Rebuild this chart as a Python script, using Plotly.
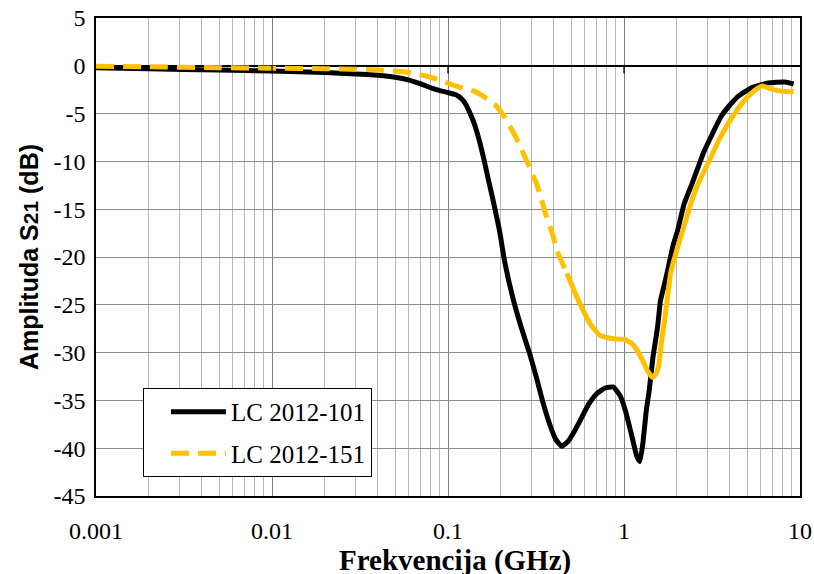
import plotly.graph_objects as go

# ---- data ----
freq_101 = [0.001, 0.002, 0.005, 0.01, 0.02, 0.03, 0.04, 0.05, 0.06, 0.07, 0.08, 0.09, 0.1,
            0.11, 0.115, 0.12, 0.125, 0.13, 0.14, 0.15, 0.16, 0.17, 0.18, 0.196, 0.21, 0.233, 0.26, 0.291,
            0.32, 0.345, 0.38, 0.41, 0.443, 0.48, 0.52, 0.56, 0.63, 0.7, 0.78, 0.87, 0.95,
            1.02, 1.1, 1.18, 1.23, 1.28, 1.34, 1.39, 1.46, 1.55, 1.61, 1.69, 1.77, 1.9, 2.02,
            2.19, 2.44, 2.83, 3.2, 3.56, 4.0, 4.45, 5.3, 6.6, 8.2, 9.2]
s21_101 = [-0.2, -0.3, -0.45, -0.55, -0.7, -0.85, -1.0, -1.2, -1.5, -1.9, -2.3, -2.6, -2.8,
           -3.0, -3.2, -3.5, -3.9, -4.5, -5.9, -7.7, -9.8, -12.0, -14.0, -17.2, -20.5, -24.2, -27.3, -30.1,
           -32.8, -35.1, -37.6, -39.1, -39.8, -39.3, -38.3, -37.2, -35.4, -34.3, -33.7, -33.6, -34.5,
           -36.1, -38.5, -40.8, -41.4, -39.5, -36.0, -34.0, -30.5, -27.4, -24.6, -23.0, -21.4, -18.8, -17.2,
           -14.5, -12.3, -9.1, -7.0, -5.3, -4.1, -3.2, -2.3, -1.8, -1.7, -1.9]

freq_151 = [0.001, 0.002, 0.005, 0.01, 0.02, 0.03, 0.04, 0.05, 0.057, 0.07, 0.08, 0.093, 0.11,
            0.125, 0.143, 0.165, 0.188, 0.205, 0.224, 0.245, 0.267, 0.29, 0.318, 0.34, 0.363,
            0.397, 0.415, 0.474, 0.54, 0.643, 0.73, 0.835, 0.93, 1.0, 1.1, 1.19, 1.28, 1.36,
            1.45, 1.52, 1.58, 1.63, 1.69, 1.76, 1.84, 2.0, 2.19, 2.4, 2.6, 3.13, 3.5, 3.92, 4.4,
            4.9, 5.5, 6.1, 6.6, 7.5, 8.3, 9.2]
s21_151 = [-0.05, -0.1, -0.2, -0.25, -0.3, -0.35, -0.45, -0.55, -0.65, -0.95, -1.2, -1.6, -2.1,
           -2.4, -2.7, -3.4, -4.2, -5.1, -6.3, -7.6, -9.1, -10.6, -12.3, -14.0, -15.8,
           -17.9, -19.3, -21.7, -24.2, -27.0, -28.2, -28.5, -28.6, -28.6, -29.0, -29.8, -30.9, -31.9,
           -32.6, -32.2, -31.2, -29.0, -27.0, -24.5, -21.7, -19.2, -16.8, -14.4, -12.6, -9.5, -7.6, -6.0, -4.6,
           -3.5, -2.6, -2.1, -2.3, -2.6, -2.7, -2.7]

names = ["LC 2012-101", "LC 2012-151"]
x_tickvals = [0.001, 0.01, 0.1, 1, 10]
x_ticktext = ["0.001", "0.01", "0.1", "1", "10"]
y_tickvals = list(range(-45, 10, 5))
y_ticktext = [str(v) for v in y_tickvals]
decade_marks = [0.01, 0.1, 1]

SERIF = "Liberation Serif"
SANS = "Liberation Sans"
split = freq_151.index(0.474)

fig = go.Figure()
fig.add_trace(go.Scatter(x=freq_101, y=s21_101, mode="lines", name=names[0],
                         line=dict(color="black", width=5, shape="spline", smoothing=0.4),
                         legendgroup="a"))
fig.add_trace(go.Scatter(x=freq_151[:split + 1], y=s21_151[:split + 1], mode="lines", name=names[1],
                         line=dict(color="#FFC000", width=5, dash="18px,9px", shape="spline", smoothing=0.4),
                         legendgroup="b"))
fig.add_trace(go.Scatter(x=freq_151[split:], y=s21_151[split:], mode="lines", name=names[1],
                         line=dict(color="#FFC000", width=5, shape="spline", smoothing=0.4),
                         legendgroup="b", showlegend=False))

for d in decade_marks:
    fig.add_shape(type="line", xref="x", yref="y", x0=d, x1=d, y0=0, y1=-0.8,
                  line=dict(color="black", width=1.3))

# axis titles
fig.add_annotation(xref="paper", yref="paper", x=-0.095, y=0.5, xanchor="center", yanchor="middle",
                   textangle=-90, showarrow=False,
                   text="<b>Amplituda S<span style='font-size:21px'>21</span> (dB)</b>",
                   font=dict(family=SANS, size=25, color="black"))
fig.add_annotation(xref="paper", yref="paper", x=0.51, y=-0.134, xanchor="center", yanchor="middle",
                   showarrow=False, text="<b>Frekvencija (GHz)</b>",
                   font=dict(family=SERIF, size=29, color="black"))

fig.update_layout(
    width=814, height=574,
    margin=dict(l=96, r=14, t=18, b=78),
    paper_bgcolor="white", plot_bgcolor="white",
    font=dict(family=SERIF, size=24, color="black"),
    showlegend=True,
    legend=dict(x=0.0668, y=0.226, xanchor="left", yanchor="top",
                bgcolor="white", bordercolor="black", borderwidth=1,
                font=dict(family=SERIF, size=25, color="black"), tracegroupgap=6,
                itemwidth=55, indentation=22),
    xaxis=dict(type="log", range=[-3, 1], tickvals=x_tickvals, ticktext=x_ticktext,
               automargin=False,
               showgrid=True, gridcolor="#808080", gridwidth=1,
               minor=dict(dtick="D1", showgrid=True, gridcolor="#b8b8b8", gridwidth=1),
               showline=True, linecolor="black", linewidth=1.5, mirror=True,
               ticks="", ticklabelstandoff=12, ticklabeloverflow="allow",
               tickfont=dict(family=SERIF, size=24, color="black"),
               zeroline=False),
    yaxis=dict(range=[-45, 5], tickvals=y_tickvals, ticktext=y_ticktext,
               automargin=False,
               showgrid=True, gridcolor="#8c8c8c", gridwidth=1,
               showline=True, linecolor="black", linewidth=1.5, mirror=True,
               ticks="", ticklabelstandoff=4, ticklabeloverflow="allow",
               tickfont=dict(family=SERIF, size=24, color="black"),
               zeroline=True, zerolinecolor="black", zerolinewidth=1.5),
)

# remove the default 8px page margin so the 814x574 figure fills the window exactly
fig.write_html("out.html", config={"displayModeBar": False},
               post_script="document.body.style.margin='0';document.body.style.overflow='hidden';")
